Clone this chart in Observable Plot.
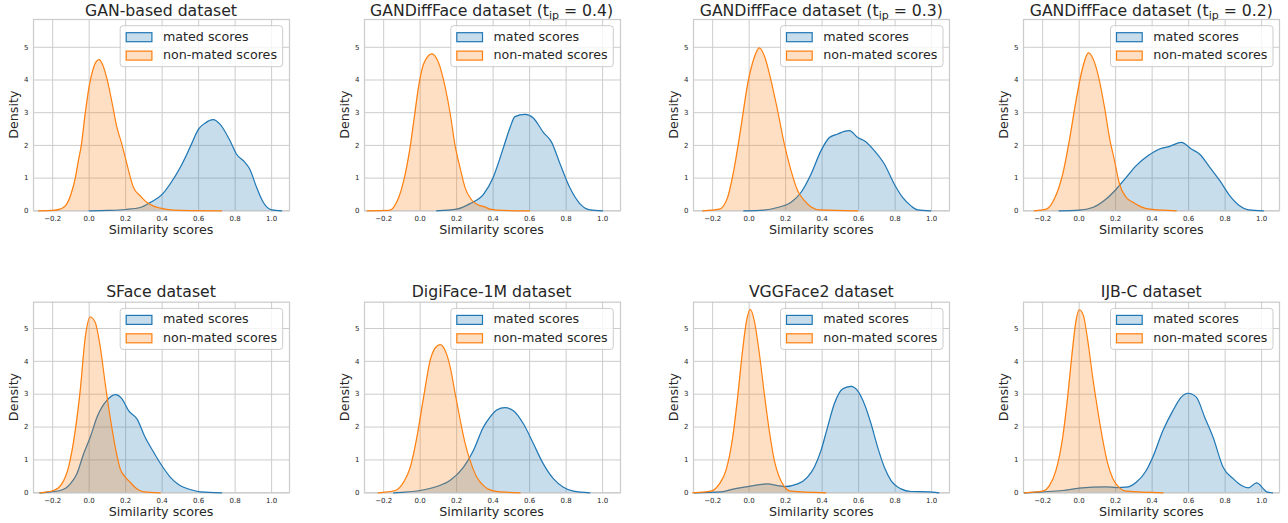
<!DOCTYPE html>
<html><head><meta charset="utf-8">
<script src="https://cdn.jsdelivr.net/npm/d3@7"></script>
<script src="https://cdn.jsdelivr.net/npm/@observablehq/plot@0.6"></script>
<style>
body{margin:0;background:#fff;font-family:"DejaVu Sans",sans-serif;}
#root{position:relative;width:1288px;height:523px;overflow:hidden;background:#fff;}
#root svg.panel{position:absolute;}
#overlay{position:absolute;left:0;top:0;pointer-events:none;}
</style></head><body><div id="root"></div>
<script>
// ---- data: [similarity score, density] ----
const titles = ["GAN-based dataset", "GANDiffFace dataset (t_ip = 0.4)", "GANDiffFace dataset (t_ip = 0.3)", "GANDiffFace dataset (t_ip = 0.2)",
                "SFace dataset", "DigiFace-1M dataset", "VGGFace2 dataset", "IJB-C dataset"];
const seriesNames = ["mated scores", "non-mated scores"];
const xTicks = [-0.2, 0.0, 0.2, 0.4, 0.6, 0.8, 1.0];
const yTicks = [0, 1, 2, 3, 4, 5];

const ganMated = [[0.0,0],[0.1,0.01],[0.2,0.04],[0.28,0.1],[0.334,0.25],[0.4,0.5],[0.444,0.82],[0.5,1.33],[0.553,1.94],[0.6,2.5],[0.635,2.68],[0.68,2.79],[0.717,2.65],[0.772,2.14],[0.808,1.73],[0.854,1.48],[0.88,1.28],[0.918,0.71],[0.954,0.26],[1.0,0.03],[1.055,0]];
const ganNon = [[-0.277,0],[-0.2,0.01],[-0.16,0.05],[-0.13,0.15],[-0.1,0.5],[-0.076,1.0],[-0.06,1.5],[-0.043,2.0],[-0.021,3.0],[0.0,3.8],[0.02,4.3],[0.04,4.57],[0.055,4.62],[0.075,4.45],[0.097,4.05],[0.134,3.06],[0.148,2.65],[0.179,2.04],[0.207,1.43],[0.243,0.71],[0.28,0.46],[0.316,0.26],[0.35,0.15],[0.39,0.08],[0.46,0.02],[0.55,0.005],[0.726,0]];
const gd04Mated = [[0.09,0],[0.2,0.05],[0.274,0.22],[0.347,0.5],[0.4,1.02],[0.457,1.94],[0.493,2.55],[0.52,2.88],[0.575,2.95],[0.62,2.84],[0.675,2.4],[0.72,2.1],[0.767,1.43],[0.82,0.71],[0.875,0.22],[0.93,0.03],[1.0,0]];
const gd04Non = [[-0.29,0],[-0.17,0.01],[-0.146,0.1],[-0.09,0.92],[-0.058,1.84],[-0.032,2.86],[-0.009,3.78],[0.019,4.49],[0.064,4.8],[0.1,4.54],[0.137,3.78],[0.165,2.96],[0.19,2.04],[0.218,1.33],[0.246,0.71],[0.282,0.33],[0.319,0.18],[0.355,0.12],[0.383,0.05],[0.456,0.01],[0.6,0]];
const gd03Mated = [[-0.03,0],[0.08,0.02],[0.156,0.1],[0.23,0.26],[0.284,0.56],[0.339,1.12],[0.394,1.84],[0.44,2.24],[0.486,2.35],[0.522,2.43],[0.55,2.45],[0.595,2.24],[0.631,2.14],[0.686,1.84],[0.741,1.43],[0.795,0.82],[0.841,0.41],[0.887,0.15],[0.923,0.03],[0.996,0]];
const gd03Non = [[-0.255,0],[-0.163,0.05],[-0.118,0.41],[-0.081,1.33],[-0.045,2.55],[-0.008,3.88],[0.028,4.69],[0.056,4.98],[0.083,4.74],[0.12,3.98],[0.156,3.06],[0.193,2.04],[0.23,1.22],[0.266,0.61],[0.303,0.31],[0.34,0.12],[0.385,0.03],[0.595,0]];
const gd02Mated = [[-0.11,0],[0.0,0.02],[0.074,0.1],[0.148,0.36],[0.203,0.66],[0.258,1.02],[0.313,1.38],[0.377,1.68],[0.441,1.89],[0.496,1.97],[0.56,2.09],[0.615,1.89],[0.661,1.73],[0.716,1.33],[0.771,0.92],[0.826,0.46],[0.881,0.15],[0.927,0.03],[1.01,0]];
const gd02Non = [[-0.246,0],[-0.18,0.05],[-0.136,0.36],[-0.09,1.12],[-0.054,2.14],[-0.017,3.37],[0.02,4.39],[0.051,4.83],[0.084,4.54],[0.111,3.98],[0.139,3.16],[0.166,2.24],[0.194,1.53],[0.221,0.82],[0.258,0.41],[0.295,0.26],[0.34,0.12],[0.386,0.05],[0.532,0]];
const sfaceMated = [[-0.27,0],[-0.158,0.07],[-0.103,0.27],[-0.067,0.58],[-0.03,1.19],[0.006,1.69],[0.043,2.3],[0.097,2.81],[0.143,2.99],[0.18,2.86],[0.216,2.5],[0.262,2.25],[0.307,1.69],[0.353,1.24],[0.398,0.83],[0.444,0.48],[0.498,0.22],[0.553,0.1],[0.608,0.03],[0.726,0]];
const sfaceNon = [[-0.27,0],[-0.195,0.07],[-0.15,0.27],[-0.113,0.78],[-0.076,1.9],[-0.049,3.11],[-0.021,4.74],[0.006,5.35],[0.033,5.19],[0.061,4.43],[0.088,3.32],[0.115,2.3],[0.143,1.39],[0.17,0.73],[0.198,0.48],[0.225,0.32],[0.261,0.12],[0.298,0.03],[0.39,0]];
const digiMated = [[-0.145,0],[0.0,0.07],[0.091,0.19],[0.165,0.38],[0.238,0.78],[0.292,1.29],[0.347,2.0],[0.383,2.3],[0.42,2.52],[0.465,2.59],[0.511,2.5],[0.566,2.1],[0.621,1.49],[0.675,0.88],[0.73,0.43],[0.785,0.17],[0.84,0.05],[0.93,0]];
const digiNon = [[-0.23,0],[-0.136,0.07],[-0.091,0.32],[-0.054,0.78],[-0.018,1.69],[0.019,2.91],[0.055,4.03],[0.083,4.41],[0.11,4.51],[0.137,4.33],[0.165,3.82],[0.192,3.01],[0.22,2.2],[0.247,1.49],[0.274,0.98],[0.31,0.48],[0.347,0.22],[0.383,0.09],[0.438,0.03],[0.548,0]];
const vggMated = [[-0.3,0],[-0.154,0.03],[-0.081,0.12],[-0.008,0.19],[0.047,0.24],[0.101,0.27],[0.156,0.22],[0.193,0.19],[0.266,0.27],[0.32,0.48],[0.357,0.78],[0.394,1.29],[0.43,2.0],[0.467,2.71],[0.512,3.16],[0.558,3.24],[0.594,3.11],[0.631,2.71],[0.668,2.1],[0.704,1.39],[0.741,0.78],[0.777,0.38],[0.832,0.12],[0.887,0.04],[0.978,0.03],[1.04,0]];
const vggNon = [[-0.31,0],[-0.209,0.05],[-0.163,0.27],[-0.127,0.68],[-0.09,1.69],[-0.063,2.91],[-0.036,4.33],[-0.017,5.14],[0.006,5.58],[0.028,5.24],[0.056,4.23],[0.083,3.01],[0.11,1.9],[0.138,0.98],[0.165,0.48],[0.193,0.19],[0.229,0.05],[0.42,0]];
const ijbcMated = [[-0.3,0],[-0.2,0.03],[-0.09,0.07],[0.001,0.14],[0.075,0.17],[0.148,0.18],[0.203,0.16],[0.258,0.17],[0.313,0.32],[0.368,0.68],[0.404,1.09],[0.46,1.9],[0.514,2.5],[0.56,2.91],[0.597,3.03],[0.642,2.91],[0.688,2.3],[0.734,1.69],[0.789,0.78],[0.844,0.43],[0.89,0.22],[0.927,0.15],[0.973,0.3],[1.01,0.12],[1.028,0.03],[1.06,0]];
const ijbcNon = [[-0.3,0],[-0.2,0.05],[-0.163,0.22],[-0.127,0.68],[-0.09,1.69],[-0.063,2.91],[-0.039,4.23],[-0.017,5.24],[0.001,5.57],[0.023,5.4],[0.047,4.64],[0.074,3.52],[0.102,2.5],[0.13,1.59],[0.157,0.88],[0.185,0.43],[0.221,0.15],[0.258,0.05],[0.46,0]];

const matedCurves = [ganMated, gd04Mated, gd03Mated, gd02Mated, sfaceMated, digiMated, vggMated, ijbcMated];
const nonCurves = [ganNon, gd04Non, gd03Non, gd02Non, sfaceNon, digiNon, vggNon, ijbcNon];

// ---- layout / style ----
const BLUE = "#1f77b4", ORANGE = "#ff7f0e", GRID = "#cccccc", INK = "#262626";
const colLeft = [0, 330.6, 660.3, 990.3];
const rows = [
  {top: 0, marginTop: 19, frameH: 191.3, ymax: 5.85, titleY: 16},
  {top: 280, marginTop: 21.7, frameH: 190.6, ymax: 5.80, titleY: 296.5}
];
const W = 322, ML = 33, MR = 33, H = 240;
const xDomain = [-0.305, 1.098];
const fmt = d3.format(".1f");

const root = document.getElementById("root");
const toObj = arr => arr.map(([x, d]) => ({x, d}));

for (let i = 0; i < 8; i++) {
  const col = i % 4, r = rows[Math.floor(i / 4)];
  const mated = toObj(matedCurves[i]), non = toObj(nonCurves[i]);
  const chart = Plot.plot({
    width: W, height: H,
    marginLeft: ML, marginRight: MR, marginTop: r.marginTop, marginBottom: H - r.marginTop - r.frameH,
    style: {fontFamily: "DejaVu Sans, sans-serif", color: INK, background: "transparent", overflow: "visible"},
    x: {domain: xDomain},
    y: {domain: [0, r.ymax]},
    marks: [
      Plot.gridX(xTicks, {stroke: GRID, strokeOpacity: 1, strokeWidth: 1}),
      Plot.gridY(yTicks, {stroke: GRID, strokeOpacity: 1, strokeWidth: 1}),
      Plot.frame({stroke: GRID, strokeWidth: 1.25}),
      Plot.areaY(mated, {x: "x", y: "d", fill: BLUE, fillOpacity: 0.25, curve: "monotone-x"}),
      Plot.line(mated, {x: "x", y: "d", stroke: BLUE, strokeWidth: 1.2, curve: "monotone-x"}),
      Plot.areaY(non, {x: "x", y: "d", fill: ORANGE, fillOpacity: 0.25, curve: "monotone-x"}),
      Plot.line(non, {x: "x", y: "d", stroke: ORANGE, strokeWidth: 1.2, curve: "monotone-x"}),
      Plot.axisX(xTicks, {tickSize: 0, tickPadding: 5, fontSize: 7, label: null, tickFormat: fmt}),
      Plot.axisY(yTicks, {tickSize: 0, tickPadding: 5, fontSize: 7, label: null})
    ]
  });
  chart.classList.add("panel");
  chart.style.left = colLeft[col] + "px";
  chart.style.top = r.top + "px";
  root.appendChild(chart);
}

// ---- overlay: titles, axis labels, legends ----
const ov = d3.select(root).append("svg").attr("id", "overlay")
  .attr("width", 1288).attr("height", 523)
  .style("font-family", "DejaVu Sans, sans-serif").attr("fill", INK);

for (let i = 0; i < 8; i++) {
  const col = i % 4, r = rows[Math.floor(i / 4)];
  const fl = colLeft[col] + ML, fr = colLeft[col] + W - MR;
  const ft = r.top + r.marginTop, fb = ft + r.frameH;
  const cx = (fl + fr) / 2, cy = (ft + fb) / 2;

  // title
  const t = ov.append("text").attr("x", cx).attr("y", r.titleY).attr("text-anchor", "middle").attr("font-size", 15.7);
  const m = titles[i].match(/^(.*\(t)_ip( = .*)$/);
  if (m) {
    t.append("tspan").text(m[1]);
    t.append("tspan").attr("font-size", 11).attr("dy", 2.5).text("ip");
    t.append("tspan").attr("dy", -2.5).text(m[2]);
  } else t.text(titles[i]);

  // axis labels
  ov.append("text").attr("x", cx).attr("y", fb + 24).attr("text-anchor", "middle").attr("font-size", 12.7).text("Similarity scores");
  ov.append("text").attr("transform", `translate(${fl - 15},${cy}) rotate(-90)`).attr("text-anchor", "middle").attr("font-size", 12.7).text("Density");

  // legend
  const bw = 162.5, bh = 41, bx = fr - 6.3 - bw, by = ft + 6.7;
  const g = ov.append("g");
  g.append("rect").attr("x", bx).attr("y", by).attr("width", bw).attr("height", bh).attr("rx", 3)
    .attr("fill", "#fff").attr("fill-opacity", 0.8).attr("stroke", GRID).attr("stroke-width", 1);
  [BLUE, ORANGE].forEach((c, k) => {
    g.append("rect").attr("x", bx + 6).attr("y", by + 7 + k * 18.4).attr("width", 25.7).attr("height", 9)
      .attr("fill", c).attr("fill-opacity", 0.25).attr("stroke", c).attr("stroke-width", 1.2);
    g.append("text").attr("x", bx + 42.7).attr("y", by + 15 + k * 18.4).attr("font-size", 12.7).text(seriesNames[k]);
  });
}
</script></body></html>
